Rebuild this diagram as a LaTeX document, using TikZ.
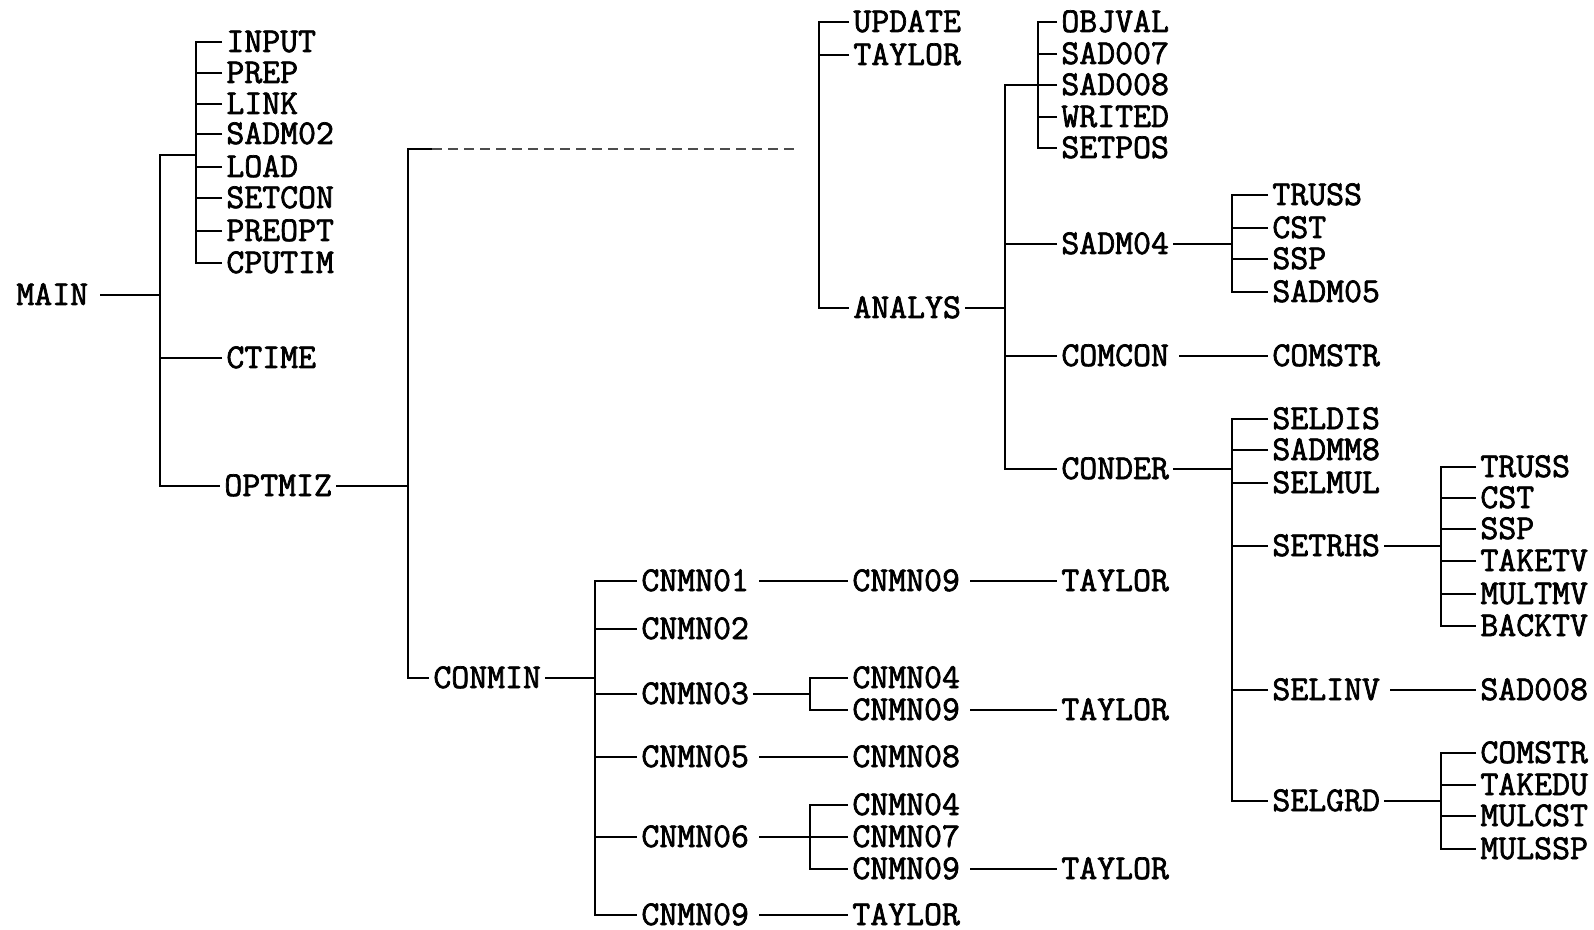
\documentclass[tikz,border=0pt]{standalone}
\usepackage{fontspec}
\newfontfamily\twfont[FakeBold=2]{Latin Modern Mono}
\begin{document}
\begin{tikzpicture}[x=0.5pt,y=-0.5pt]
\tikzset{
  fn/.style={anchor=west, inner xsep=2pt, inner ysep=0pt, text height=10pt, text depth=0pt,
    font=\twfont\fontsize{17.4}{20}\selectfont},
  ln/.style={line width=0.9pt},
  faint/.style={line width=0.6pt, dash pattern=on 5pt off 3pt, black!70}
}
\useasboundingbox (0,0) rectangle (1594,930);
% bracket x positions
\coordinate (bMain) at (160,0);
\coordinate (bIn) at (196,0);
\coordinate (bOpt) at (408,0);
\coordinate (bUp) at (819,0);
\coordinate (bAn) at (1005,0);
\coordinate (bObj) at (1038,0);
\coordinate (bS4) at (1232,0);
\coordinate (bCd) at (1232,0);
\coordinate (bRh) at (1441,0);
\coordinate (bGr) at (1441,0);
\coordinate (bCm) at (595,0);
\coordinate (bC3) at (810,0);
\coordinate (bC6) at (810,0);
\coordinate (jIn) at (196,155);
\coordinate (jUp) at (819,149);
% nodes
\node[fn] (main) at (12,295) {MAIN};
\node[fn] (input) at (222,42) {INPUT};
\node[fn] (prep) at (222,73) {PREP};
\node[fn] (link) at (222,104) {LINK};
\node[fn] (sadmb) at (222,134) {SADM02};
\node[fn] (load) at (222,167) {LOAD};
\node[fn] (setcon) at (222,198) {SETCON};
\node[fn] (preopt) at (222,231) {PREOPT};
\node[fn] (cputim) at (222,263) {CPUTIM};
\node[fn] (ctime) at (222,358) {CTIME};
\node[fn] (optmiz) at (220,486) {OPTMIZ};
\node[fn] (conmin) at (429,678) {CONMIN};
\node[fn] (update) at (849,22) {UPDATE};
\node[fn] (taylorA) at (849,55) {TAYLOR};
\node[fn] (analys) at (849,308) {ANALYS};
\node[fn] (objval) at (1057,22) {OBJVAL};
\node[fn] (sadseven) at (1057,54) {SAD007};
\node[fn] (sadeightA) at (1057,85) {SAD008};
\node[fn] (writed) at (1057,117) {WRITED};
\node[fn] (setpos) at (1057,148) {SETPOS};
\node[fn] (sadmfour) at (1057,244) {SADM04};
\node[fn] (comcon) at (1057,356) {COMCON};
\node[fn] (conder) at (1057,469) {CONDER};
\node[fn] (trussA) at (1268,195) {TRUSS};
\node[fn] (cstA) at (1268,228) {CST};
\node[fn] (sspA) at (1268,259) {SSP};
\node[fn] (sadmfive) at (1268,292) {SADM05};
\node[fn] (comstrA) at (1268,356) {COMSTR};
\node[fn] (seldis) at (1268,419) {SELDIS};
\node[fn] (sadmm) at (1268,450) {SADMM8};
\node[fn] (selmul) at (1268,483) {SELMUL};
\node[fn] (setrhs) at (1268,546) {SETRHS};
\node[fn] (selinv) at (1268,690) {SELINV};
\node[fn] (selgrd) at (1268,801) {SELGRD};
\node[fn] (trussB) at (1476,467) {TRUSS};
\node[fn] (cstB) at (1476,498) {CST};
\node[fn] (sspB) at (1476,529) {SSP};
\node[fn] (taketv) at (1476,561) {TAKETV};
\node[fn] (multmv) at (1476,594) {MULTMV};
\node[fn] (backtv) at (1476,626) {BACKTV};
\node[fn] (sadeightB) at (1476,690) {SAD008};
\node[fn] (comstrB) at (1476,753) {COMSTR};
\node[fn] (takedu) at (1476,785) {TAKEDU};
\node[fn] (mulcst) at (1476,816) {MULCST};
\node[fn] (mulssp) at (1476,849) {MULSSP};
\node[fn] (cn1) at (637,581) {CNMN01};
\node[fn] (cn2) at (637,629) {CNMN02};
\node[fn] (cn3) at (637,694) {CNMN03};
\node[fn] (cn5) at (637,757) {CNMN05};
\node[fn] (cn6) at (637,837) {CNMN06};
\node[fn] (cn9) at (637,915) {CNMN09};
\node[fn] (cn1n9) at (848,581) {CNMN09};
\node[fn] (cn3n4) at (848,678) {CNMN04};
\node[fn] (cn3n9) at (848,710) {CNMN09};
\node[fn] (cn5n8) at (848,757) {CNMN08};
\node[fn] (cn6n4) at (848,805) {CNMN04};
\node[fn] (cn6n7) at (848,837) {CNMN07};
\node[fn] (cn6n9) at (848,869) {CNMN09};
\node[fn] (cn9t) at (848,915) {TAYLOR};
\node[fn] (cn1t) at (1057,581) {TAYLOR};
\node[fn] (cn3t) at (1057,710) {TAYLOR};
\node[fn] (cn6t) at (1057,869) {TAYLOR};
% INPUT bracket
\draw[ln] (input.west) -| (cputim.west -| bIn) -- (cputim.west);
\foreach \n in {prep,link,sadmb,load,setcon,preopt} \draw[ln] (\n.west) -- (\n.west -| bIn);
% MAIN
\draw[ln] ([xshift=4pt]main.east) -- (main.east -| bMain);
\draw[ln] (jIn) -| (optmiz.west -| bMain) -- (optmiz.west);
\draw[ln] (ctime.west) -- (ctime.west -| bMain);
% OPTMIZ
\draw[ln] (optmiz.east) -- (optmiz.east -| bOpt);
\draw[ln] ([xshift=12pt]bOpt |- jUp) -- (bOpt |- jUp) -- (conmin.west -| bOpt) -- (conmin.west);
\draw[faint] ([xshift=12pt]bOpt |- jUp) -- ([xshift=-12pt]jUp);
% UPDATE bracket
\draw[ln] (update.west) -| (analys.west -| bUp) -- (analys.west);
\draw[ln] (taylorA.west) -- (taylorA.west -| bUp);
% ANALYS
\draw[ln] (analys.east) -- (analys.east -| bAn);
\draw[ln] (sadeightA.west) -| (conder.west -| bAn) -- (conder.west);
\foreach \n in {sadmfour,comcon} \draw[ln] (\n.west) -- (\n.west -| bAn);
% OBJVAL bracket
\draw[ln] (objval.west) -| (setpos.west -| bObj) -- (setpos.west);
\foreach \n in {sadseven,writed} \draw[ln] (\n.west) -- (\n.west -| bObj);
% SADM04
\draw[ln] (sadmfour.east) -- (sadmfour.east -| bS4);
\draw[ln] (trussA.west) -| (sadmfive.west -| bS4) -- (sadmfive.west);
\foreach \n in {cstA,sspA} \draw[ln] (\n.west) -- (\n.west -| bS4);
% COMCON
\draw[ln] ([xshift=3pt]comcon.east) -- (comstrA.west);
% CONDER
\draw[ln] (conder.east) -- (conder.east -| bCd);
\draw[ln] (seldis.west) -| (selgrd.west -| bCd) -- (selgrd.west);
\foreach \n in {sadmm,selmul,setrhs,selinv} \draw[ln] (\n.west) -- (\n.west -| bCd);
% SETRHS
\draw[ln] (setrhs.east) -- (setrhs.east -| bRh);
\draw[ln] (trussB.west) -| (backtv.west -| bRh) -- (backtv.west);
\foreach \n in {cstB,sspB,taketv,multmv} \draw[ln] (\n.west) -- (\n.west -| bRh);
% SELINV
\draw[ln] ([xshift=3pt]selinv.east) -- (sadeightB.west);
% SELGRD
\draw[ln] (selgrd.east) -- (selgrd.east -| bGr);
\draw[ln] (comstrB.west) -| (mulssp.west -| bGr) -- (mulssp.west);
\foreach \n in {takedu,mulcst} \draw[ln] (\n.west) -- (\n.west -| bGr);
% CONMIN
\draw[ln] (conmin.east) -- (conmin.east -| bCm);
\draw[ln] (cn1.west) -| (cn9.west -| bCm) -- (cn9.west);
\foreach \n in {cn2,cn3,cn5,cn6} \draw[ln] (\n.west) -- (\n.west -| bCm);
\draw[ln] ([xshift=3pt]cn1.east) -- (cn1n9.west);
\draw[ln] ([xshift=3pt]cn1n9.east) -- (cn1t.west);
\draw[ln] (cn3.east) -- (cn3.east -| bC3);
\draw[ln] (cn3n4.west) -| (cn3n9.west -| bC3) -- (cn3n9.west);
\draw[ln] ([xshift=3pt]cn3n9.east) -- (cn3t.west);
\draw[ln] ([xshift=3pt]cn5.east) -- (cn5n8.west);
\draw[ln] ([xshift=3pt]cn6.east) -- (cn6.east -| bC6);
\draw[ln] (cn6n4.west) -| (cn6n9.west -| bC6) -- (cn6n9.west);
\draw[ln] (cn6n7.west) -- (cn6n7.west -| bC6);
\draw[ln] ([xshift=3pt]cn6n9.east) -- (cn6t.west);
\draw[ln] ([xshift=3pt]cn9.east) -- (cn9t.west);
\end{tikzpicture}
\end{document}
